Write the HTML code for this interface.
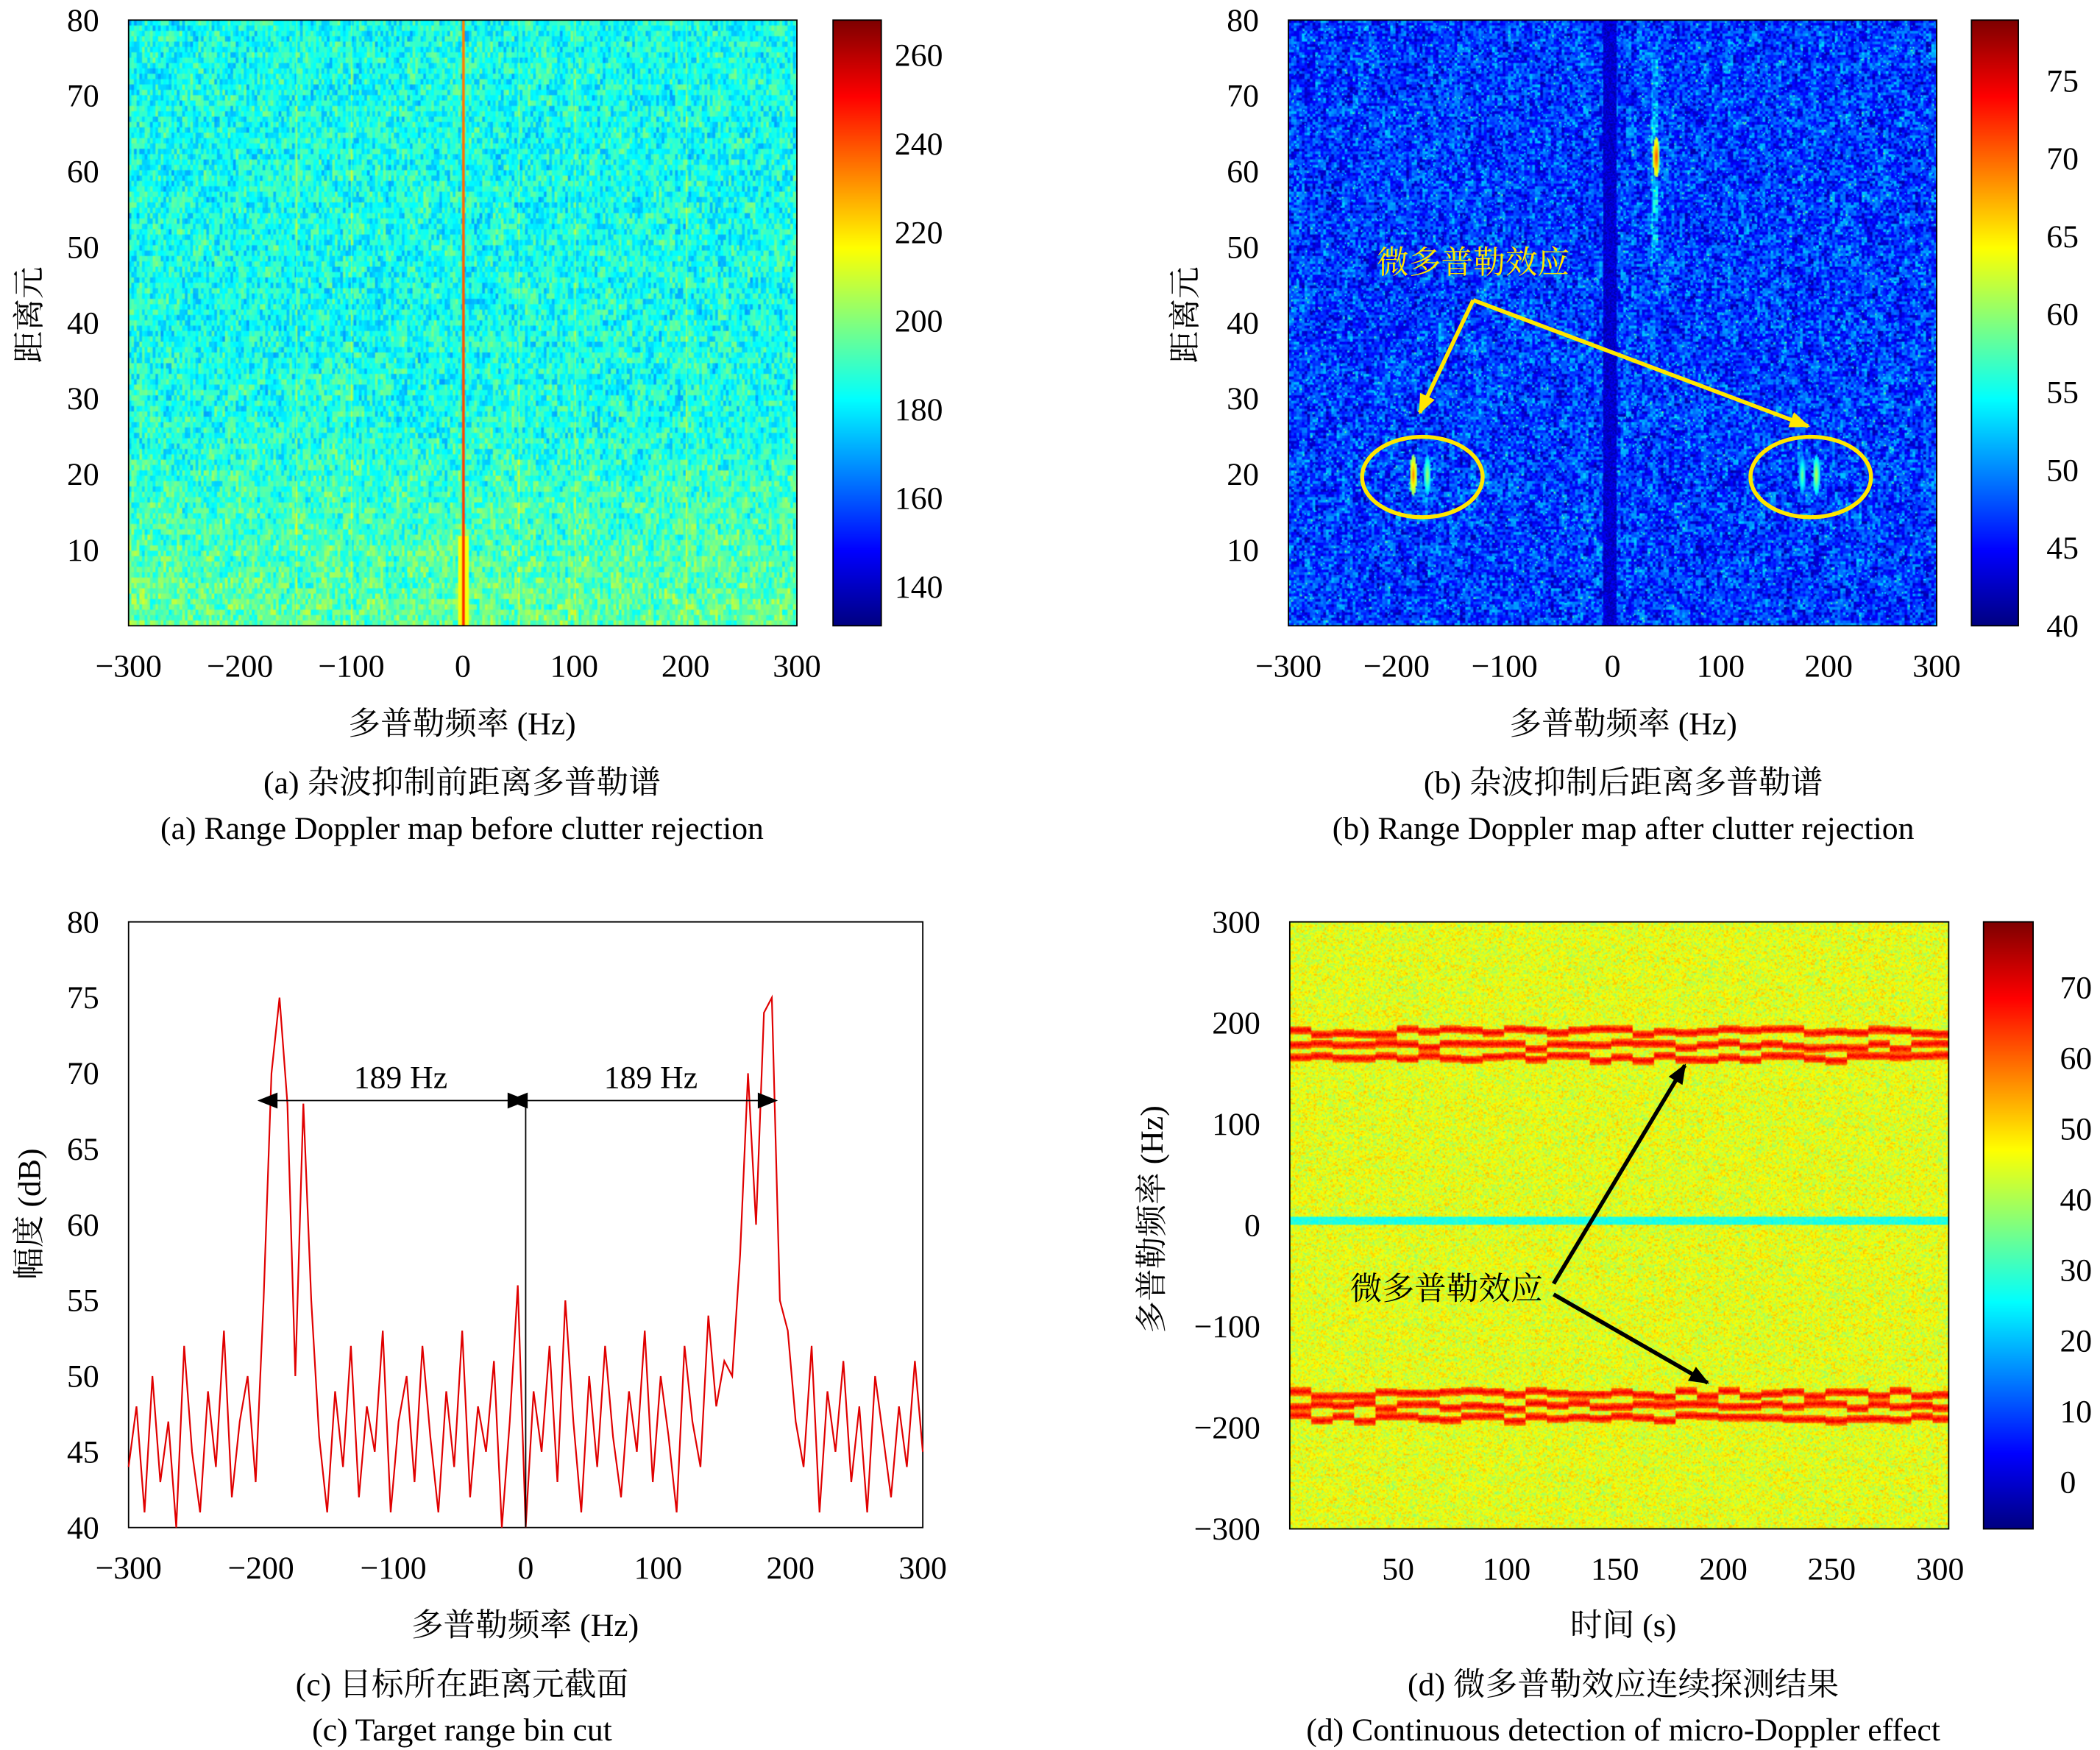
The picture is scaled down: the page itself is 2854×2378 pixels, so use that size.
<!DOCTYPE html>
<html><head><meta charset="utf-8">
<style>
html,body{margin:0;padding:0;background:#fff;}
#wrap{position:absolute;left:0;top:0;width:1568px;height:1306px;transform:scale(1.8202,1.8208);transform-origin:0 0;overflow:hidden;}
canvas{position:absolute;}
svg{position:absolute;left:0;top:0;}
text{font-family:"Liberation Serif","Noto Serif CJK SC",serif;font-size:24px;fill:#000;}
</style></head>
<body>
<div id="wrap">
<canvas id="ca" width="499" height="452" style="left:96px;top:15px"></canvas>
<canvas id="cba" width="36" height="452" style="left:622px;top:15px"></canvas>
<canvas id="cb" width="484" height="452" style="left:962px;top:15px"></canvas>
<canvas id="cbb" width="35" height="452" style="left:1472px;top:15px"></canvas>
<canvas id="cd" width="492" height="453" style="left:963px;top:688px"></canvas>
<canvas id="cbd" width="37" height="453" style="left:1481px;top:688px"></canvas>
<svg id="s" width="1568" height="1306" viewBox="0 0 1568 1306"></svg>
</div>
<script>
// ---- data ----
const ampStartHz = -300, ampStepHz = 6;
const ampValues = [44,48,41,50,43,47,40,52,45,41,49,44,53,42,47,50,43,55,70,75,68,50,68,55,46,41,49,44,52,42,48,45,53,41,47,50,43,52,46,41,49,44,53,42,48,45,51,40,47,56,40,49,45,52,43,55,47,41,50,44,52,46,42,49,45,53,43,50,46,41,52,47,44,54,48,51,50,58,70,60,74,75,55,53,47,44,52,41,49,45,51,43,48,41,50,46,42,48,44,51,45];
const aXTicks = [-300,-200,-100,0,100,200,300];
const aYTicks = [10,20,30,40,50,60,70,80];
const aCbTicks = [140,160,180,200,220,240,260];
const bCbTicks = [40,45,50,55,60,65,70,75];
const cYTicks = [40,45,50,55,60,65,70,75,80];
const dXTicks = [50,100,150,200,250,300];
const dYTicks = [-300,-200,-100,0,100,200,300];
const dCbTicks = [0,10,20,30,40,50,60,70];
// heatmap features
const aBase = 185, aBottom = 196, aZeroCol = 245;
const aLineFreqs = [-150,-100,50,100,200];
const bBase = 47, bNotch = 41;
const bTargets = [[-185,20,70],[-172,20,62],[175,20,60],[188,20,63],[40,62,68]];
const dBase = 45, dBandFreqs = [-190,-178,-166,166,178,192], dBandVal = 70, dNotchFreq = 5;

function jet(t){t=Math.max(0,Math.min(1,t));
 const r=Math.max(0,Math.min(1,1.5-Math.abs(4*t-3))),g=Math.max(0,Math.min(1,1.5-Math.abs(4*t-2))),b=Math.max(0,Math.min(1,1.5-Math.abs(4*t-1)));
 return [r*255,g*255,b*255];}
function h(x,y){let n=(x*374761393+y*668265263)|0;n=(n^(n>>>13))*1274126177|0;return ((n^(n>>>16))>>>0)/4294967295;}
function paint(id,fn,lo,hi){const c=document.getElementById(id),ctx=c.getContext('2d'),W=c.width,H=c.height,im=ctx.createImageData(W,H);
 for(let y=0;y<H;y++)for(let x=0;x<W;x++){const v=fn(x,y,W,H),col=jet((v-lo)/(hi-lo)),i=(y*W+x)*4;im.data[i]=col[0];im.data[i+1]=col[1];im.data[i+2]=col[2];im.data[i+3]=255;}
 ctx.putImageData(im,0,0);}
// a
paint('ca',(x,y,W,H)=>{const f=-300+600*x/W,r=80-80*y/H;
 let v=aBase+(aBottom-aBase)*Math.max(0,(30-r)/30)+ (h(x>>1,y>>2)-0.5)*22+(h(x>>3,y>>3)-0.5)*10;
 if(Math.abs(f)<1.3)v=aZeroCol-r*0.15; else if(Math.abs(f)<5&&r<12)v=215;
 aLineFreqs.forEach(lf=>{if(Math.abs(f-lf)<0.7)v+=12;});return v;},131,268);
paint('cb',(x,y,W,H)=>{const f=-300+600*x/W,r=80-80*y/H;
 let v=bBase+(h(x>>1,y>>1)-0.5)*8+(h(x>>2,y>>3)-0.5)*4; if(h(x,y*7)>0.985)v+=8;
 if(f>-9&&f<3)v=bNotch+h(x,y)*4;
 bTargets.forEach(t=>{const d=Math.hypot((f-t[0])/2.2,(r-t[1])/1.8);if(d<1.5)v=Math.max(v,t[2]-d*7);});
 if(Math.abs(f-38)<3&&r>48&&r<75)v+=4;return v;},40,78.9);
paint('cd',(x,y,W,H)=>{const tt=x*304/W,f=300-600*y/H;
 let v=dBase+(h(x,y)-0.5)*12+(h(x>>2,y>>1)-0.5)*5;
 dBandFreqs.forEach(bf=>{const d=Math.abs(f-bf-(h(x>>4,bf&255)-0.5)*6);if(d<4)v=Math.max(v,dBandVal-d*3+(h(x,y+7)-0.5)*6);});
 if(Math.abs(f-dNotchFreq)<4)v=25+h(x,y)*6;return v;},-6.6,79.3);
['cba','cbb','cbd'].forEach(id=>paint(id,(x,y,W,H)=>1-y/H,0,1));

// ---- svg ----
const S=document.getElementById('s'),NS='http://www.w3.org/2000/svg';
function el(tag,attrs,txt){const e=document.createElementNS(NS,tag);for(const k in attrs)e.setAttribute(k,attrs[k]);if(txt!==undefined)e.textContent=txt;S.appendChild(e);return e;}
function lin(d0,d1,p0,p1){return v=>p0+(v-d0)*(p1-p0)/(d1-d0);}
function label(x,y,t,anchor,name,extra){const e=el('text',Object.assign({x:x,y:y,'text-anchor':anchor||'middle'},extra||{}),t);
 
 return e;}
function box(x,y,w,h,name){const e=el('rect',{x:x,y:y,width:w,height:h,fill:'none',stroke:'#000','stroke-width':1});
 
 }
el('defs',{}).innerHTML='<marker id="ay" viewBox="0 0 10 8" markerWidth="16" markerHeight="12" refX="9" refY="4" orient="auto" markerUnits="userSpaceOnUse"><path d="M0,0L10,4L0,8Z" fill="#ffe600"/></marker><marker id="ak" viewBox="0 0 10 8" markerWidth="16" markerHeight="12" refX="9" refY="4" orient="auto" markerUnits="userSpaceOnUse"><path d="M0,0L10,4L0,8Z" fill="#000"/></marker><marker id="as" viewBox="0 0 10 8" markerWidth="16" markerHeight="12" refX="1" refY="4" orient="auto-start-reverse" markerUnits="userSpaceOnUse"><path d="M0,0L10,4L0,8Z" fill="#000"/></marker>';

function panelAxes(p){
 const xs=lin(p.x0,p.x1,p.L,p.R),ys=lin(p.y0,p.y1,p.B,p.T);
 box(p.L,p.T,p.R-p.L,p.B-p.T,p.n+'-plot-frame');
 p.xt.forEach(v=>label(xs(v),p.B+38,String(v).replace('-','−'),'middle',p.n+'-x-tick'));
 p.yt.forEach(v=>label(p.L-22,ys(v)+8,String(v).replace('-','−'),'end',p.n+'-y-tick'));
 return [xs,ys];}
// a
panelAxes({n:'a',x0:-300,x1:300,L:96,R:595,y0:0,y1:80,T:15,B:467,xt:aXTicks,yt:aYTicks});
label(345,548,'多普勒频率 (Hz)','middle','a-x-axis-title');
label(30,235,'距离元','middle','a-y-axis-title',{transform:'rotate(-90 30 235)'});
label(345,592,'(a) 杂波抑制前距离多普勒谱','middle','a-caption-cn');
label(345,626,'(a) Range Doppler map before clutter rejection','middle','a-caption-en');
box(622,15,36,452,'a-colorbar-frame');
const acs=lin(131.2,267.9,467,15);aCbTicks.forEach(v=>label(668,acs(v)+8,v,'start','a-colorbar-tick'));
// b
panelAxes({n:'b',x0:-300,x1:300,L:962,R:1446,y0:0,y1:80,T:15,B:467,xt:aXTicks,yt:aYTicks});
label(1212,548,'多普勒频率 (Hz)','middle','b-x-axis-title');
label(893,235,'距离元','middle','b-y-axis-title',{transform:'rotate(-90 893 235)'});
label(1212,592,'(b) 杂波抑制后距离多普勒谱','middle','b-caption-cn');
label(1212,626,'(b) Range Doppler map after clutter rejection','middle','b-caption-en');
box(1472,15,35,452,'b-colorbar-frame');
const bcs=lin(40,78.9,467,15);bCbTicks.forEach(v=>label(1528,bcs(v)+8,v,'start','b-colorbar-tick'));
label(1100,204,'微多普勒效应','middle','b-annotation-label',{style:'fill:#ffe600'});
[[1100,224,1060,308],[1100,224,1350,318]].forEach(a=>{const e=el('line',{x1:a[0],y1:a[1],x2:a[2],y2:a[3],stroke:'#ffe600','stroke-width':3,'marker-end':'url(#ay)'});
 
 });
[[1062,356],[1352,356]].forEach(c=>{const e=el('ellipse',{cx:c[0],cy:c[1],rx:45,ry:30,fill:'none',stroke:'#ffe600','stroke-width':3});
 
 });
// c
const [cx,cy]=panelAxes({n:'c',x0:-300,x1:300,L:96,R:689,y0:40,y1:80,T:688,B:1140,xt:aXTicks,yt:cYTicks});
let pts=ampValues.map((v,i)=>cx(ampStartHz+i*ampStepHz).toFixed(1)+','+cy(v).toFixed(1)).join(' ');
const pl=el('polyline',{points:pts,fill:'none',stroke:'#e00000','stroke-width':1.2});


const vl=el('line',{x1:cx(0),y1:cy(40),x2:cx(0),y2:cy(68),stroke:'#000','stroke-width':1});


[[-189,0],[0,189]].forEach(a=>{const e=el('line',{x1:cx(a[0]),y1:cy(68.2),x2:cx(a[1]),y2:cy(68.2),stroke:'#000','stroke-width':1,'marker-start':'url(#as)','marker-end':'url(#ak)'});
 
 
 label(cx((a[0]+a[1])/2),812,'189 Hz','middle','c-interval-label');});
label(392,1221,'多普勒频率 (Hz)','middle','c-x-axis-title');
label(30,906,'幅度 (dB)','middle','c-y-axis-title',{transform:'rotate(-90 30 906)'});
label(345,1265,'(c) 目标所在距离元截面','middle','c-caption-cn');
label(345,1299,'(c) Target range bin cut','middle','c-caption-en');
// d
panelAxes({n:'d',x0:0,x1:304,L:963,R:1455,y0:-300,y1:300,T:688,B:1141,xt:dXTicks,yt:dYTicks});
label(1212,1221,'时间 (s)','middle','d-x-axis-title');
label(868,910,'多普勒频率 (Hz)','middle','d-y-axis-title',{transform:'rotate(-90 868 910)'});
label(1212,1265,'(d) 微多普勒效应连续探测结果','middle','d-caption-cn');
label(1212,1299,'(d) Continuous detection of micro-Doppler effect','middle','d-caption-en');
box(1481,688,37,453,'d-colorbar-frame');
const dcs=lin(-6.6,79.3,1141,688);dCbTicks.forEach(v=>label(1538,dcs(v)+8,v,'start','d-colorbar-tick'));
label(1080,970,'微多普勒效应','middle','d-annotation-label');
[[1160,958,1258,795],[1160,966,1275,1032]].forEach(a=>{const e=el('line',{x1:a[0],y1:a[1],x2:a[2],y2:a[3],stroke:'#000','stroke-width':3,'marker-end':'url(#ak)'});
 
 });
</script>
</body></html>
